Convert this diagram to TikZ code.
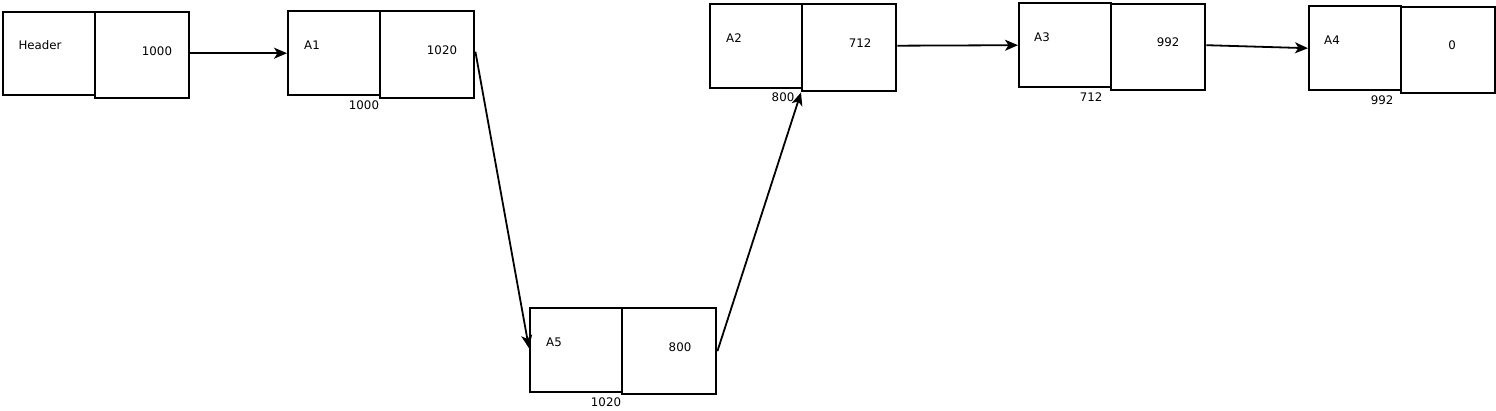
\documentclass[tikz,border=0pt]{standalone}
\usepackage{fontspec}
\setmainfont{DejaVu Sans}
\usetikzlibrary{arrows.meta}
\begin{document}
\begin{tikzpicture}[x=1pt,y=-1pt,
  cellL/.style={draw=black, line width=2.4pt, anchor=north west, inner sep=0pt, minimum width=92pt, minimum height=84pt},
  cellR/.style={draw=black, line width=2.4pt, anchor=north west, inner sep=0pt, minimum width=94pt, minimum height=86pt},
  txt/.style={inner sep=0pt, font=\fontsize{11.8}{13}\selectfont},
  arr/.style={line width=1.8pt, -{Stealth[length=13pt,width=11pt,inset=3.5pt]}}]
\useasboundingbox[fill=white] (0,0) rectangle (1496,411);
% Header
\node[cellL, minimum height=83pt] (hL) at (2,11) {};
\node[cellR] (hR) at (94,11) {};
\node[txt] (hT) at (40,45) {Header};
\node[txt] (hV) at (157,51) {1000};
% A1
\node[cellL] (a1L) at (287,10) {};
\node[cellR, minimum height=87pt] (a1R) at (379,10) {};
\node[txt] (a1T) at (312,45) {A1};
\node[txt] (a1V) at (442,50) {1020};
\node[txt] (a1A) at (364,105) {1000};
% A5
\node[cellL] (a5L) at (529,307) {};
\node[cellR] (a5R) at (621,307) {};
\node[txt] (a5T) at (554,342) {A5};
\node[txt] (a5V) at (680,347) {800};
\node[txt] (a5A) at (606,402) {1020};
% A2
\node[cellL] (a2L) at (709,3) {};
\node[cellR, minimum height=87pt] (a2R) at (801,3) {};
\node[txt] (a2T) at (734,38) {A2};
\node[txt] (a2V) at (860,43) {712};
\node[txt] (a2A) at (783,97) {800};
% A3
\node[cellL] (a3L) at (1018,2) {};
\node[cellR] (a3R) at (1110,3) {};
\node[txt] (a3T) at (1042,37) {A3};
\node[txt] (a3V) at (1168,42) {992};
\node[txt] (a3A) at (1091,97) {712};
% A4
\node[cellL] (a4L) at (1308,5) {};
\node[cellR] (a4R) at (1400,6) {};
\node[txt] (a4T) at (1332,40) {A4};
\node[txt] (a4V) at (1452,45) {0};
\node[txt] (a4A) at (1382,100) {992};
% connectors
\draw[arr] ([yshift=2pt]hR.east) -- (a1L.west);
\draw[arr] ([yshift=3pt]a1R.east) -- ([yshift=2pt]a5L.west);
\draw[arr] (a5R.east) -- (a2R.south west);
\draw[arr] ([yshift=2pt]a2R.east) -- (a3L.west);
\draw[arr] ([yshift=2pt]a3R.east) -- (a4L.west);
\end{tikzpicture}
\end{document}
